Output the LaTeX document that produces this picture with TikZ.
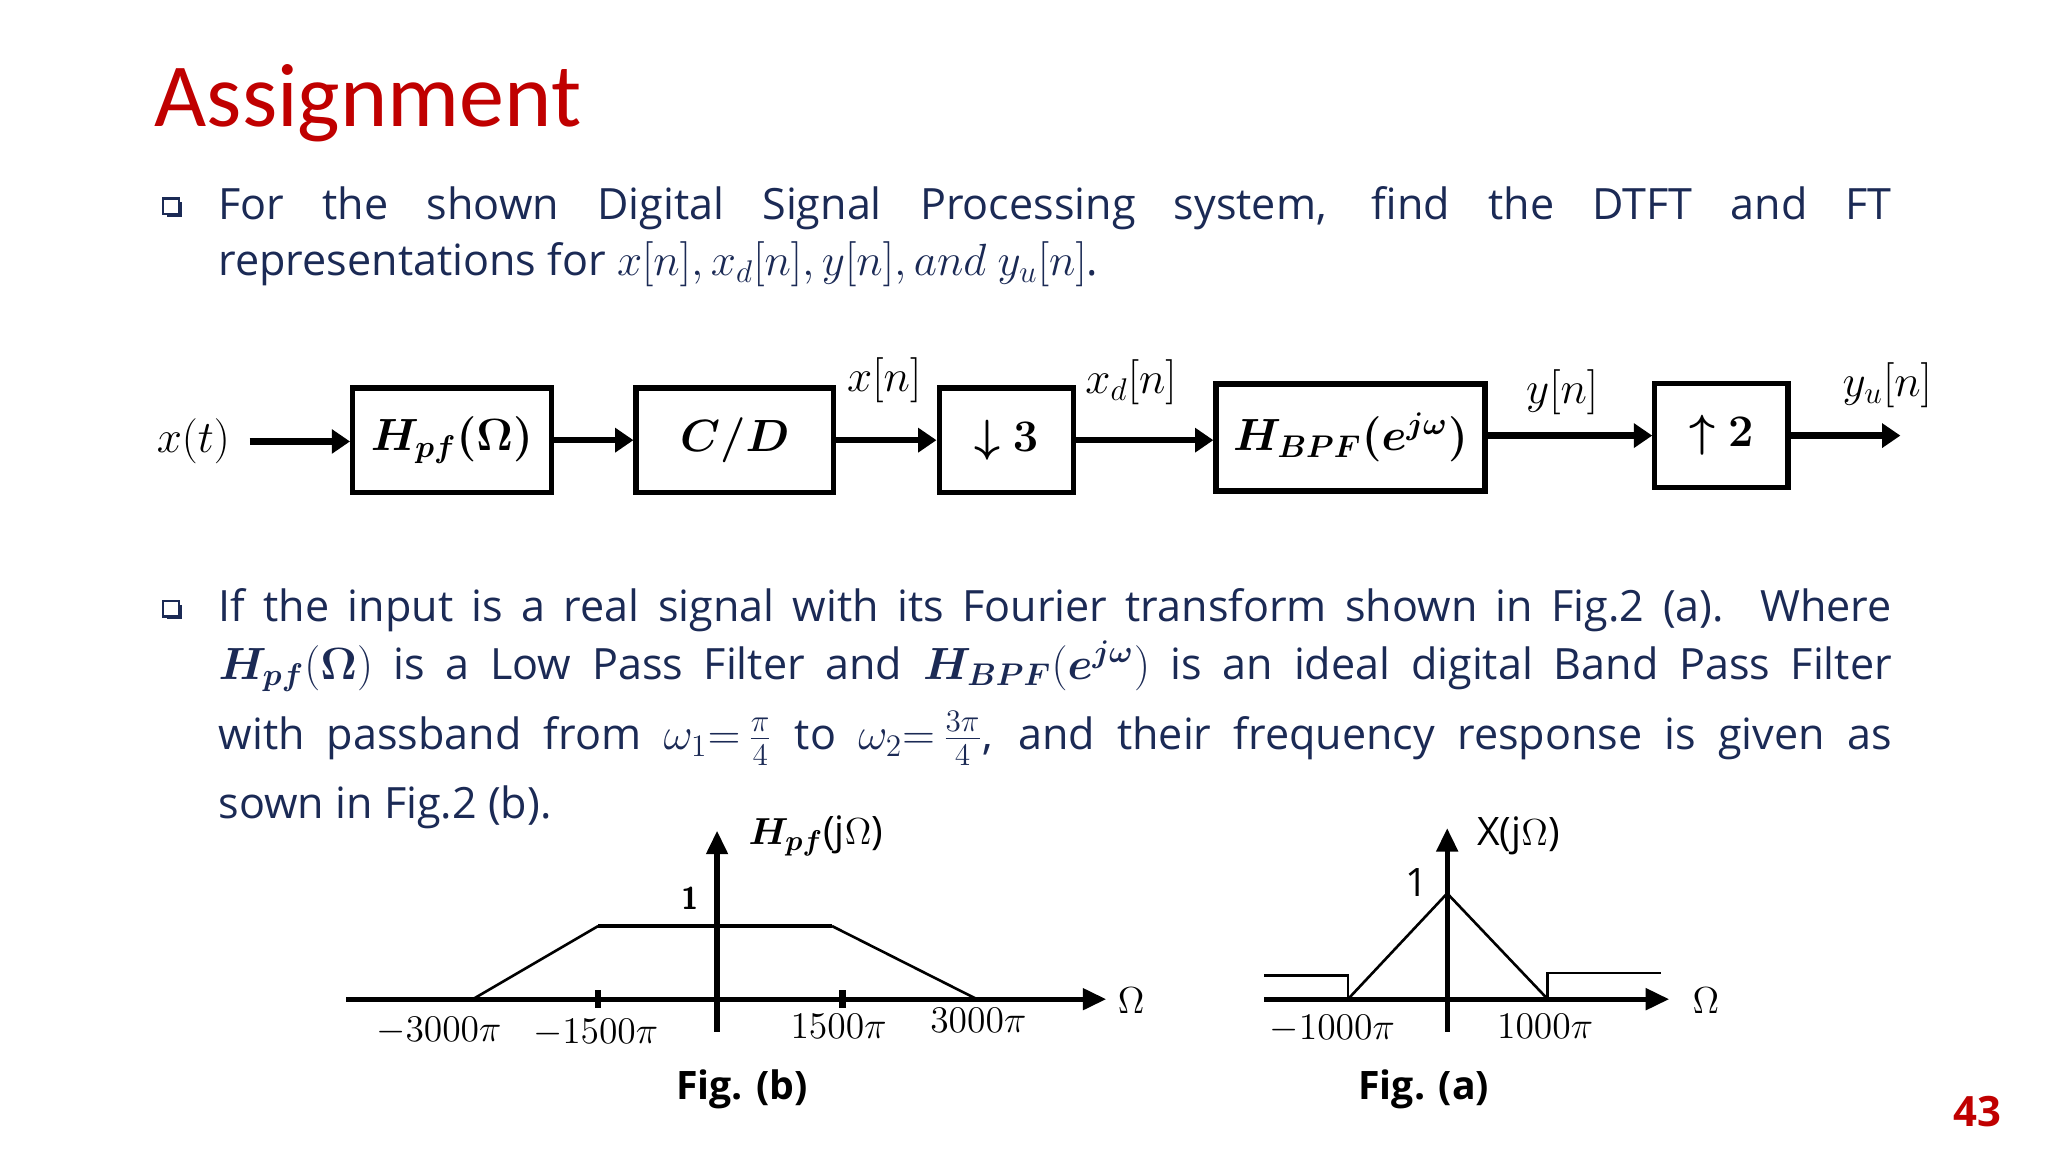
\documentclass[tikz,border=0pt]{standalone}
\usepackage{amsmath,bm}
\usepackage{fontspec}
\setmainfont{Open Sans}
\newfontfamily\titlefont{Carlito}
\usetikzlibrary{arrows.meta}
\definecolor{navy}{HTML}{1B2A55}
\definecolor{tred}{HTML}{C00000}
\newcommand{\bodysz}{\fontsize{16.5pt}{21pt}\selectfont}
\tikzset{
 blk/.style={draw,line width=2pt,minimum height=40pt,inner sep=0pt,font=\fontsize{17pt}{19pt}\selectfont},
 sig/.style={line width=2.5pt,-{Triangle[length=7pt,width=9pt]}},
 lbl/.style={font=\fontsize{17pt}{19pt}\selectfont},
 body/.style={anchor=base west,inner sep=0pt,text=navy,font=\bodysz},
 ax/.style={line width=2pt,-{Triangle[length=9pt,width=8pt]}},
 gl/.style={font=\fontsize{15pt}{17pt}\selectfont,inner sep=1pt},
 bul/.style={draw=navy,fill=white,line width=0.8pt,minimum size=6pt,inner sep=0pt,drop/.style={}}
}
\begin{document}
\begin{tikzpicture}[x=0.5pt,y=-0.5pt]
\useasboundingbox[fill=white] (0,0) rectangle (1568,882);
% title
\node[anchor=base west,inner sep=0pt,text=tred,font=\titlefont\fontsize{34.5pt}{36pt}\selectfont] (title) at (118,97) {Assignment};
% bullet 1
\fill[navy] (128,155) rectangle (139,166);
\node[bul] (b1) at (131,158) {};
\node[body] (l1) at (167,168) {\makebox[640.5pt][s]{For the shown Digital Signal Processing system, find the DTFT and FT}};
\node[body] (l2) at (167,211) {representations for $x[n],x_d[n],y[n],and\ y_u[n]$.};
% block diagram
\node[lbl] (xt) at (148,338) {$x(t)$};
\node[blk,minimum width=76pt] (hpf) at (346,337) {$\bm{H_{pf}(\Omega)}$};
\node[blk,minimum width=75.5pt] (cd) at (562.5,337) {$\bm{C/D}$};
\node[blk,minimum width=51.5pt] (ds) at (770.5,337) {$\bm{\downarrow 3}$};
\node[blk,minimum width=103pt,minimum height=41pt] (bpf) at (1034,335) {$\bm{H_{BPF}(e^{j\omega})}$};
\node[blk,minimum width=51pt] (us) at (1318,333.5) {$\bm{\uparrow 2}$};
\coordinate (out) at (1455,333.5);
\draw[sig] (xt.east) ++(8,0) -- (hpf.west|-xt.east);
\draw[sig] (hpf.east) -- (cd.west);
\draw[sig] (cd.east|-ds.west) -- (ds.west);
\draw[sig] (ds.east) -- (bpf.west|-ds.east);
\draw[sig] (bpf.east|-us.west) -- (us.west);
\draw[sig] (us.east) -- (out);
\node[lbl] (xn) at (677,291) {$x[n]$};
\node[lbl] (xdn) at (866,293) {$x_d[n]$};
\node[lbl] (yn) at (1196,300) {$y[n]$};
\node[lbl] (yun) at (1445,295) {$y_u[n]$};
% bullet 2
\fill[navy] (128,463) rectangle (139,474);
\node[bul] (b2) at (131,466) {};
\node[body] (m1) at (167,476) {\makebox[640.5pt][s]{If the input is a real signal with its Fourier transform shown in Fig.2 (a). Where}};
\node[body] (m2) at (167,520) {\makebox[640.5pt][s]{$\bm{H_{pf}}(\bm{\Omega})$ is a Low Pass Filter and $\bm{H_{BPF}}(\bm{e^{j\omega}})$ is an ideal digital Band Pass Filter}};
\node[body] (m3) at (167,574) {\makebox[640.5pt][s]{with passband from $\omega_1{=}\,\frac{\pi}{4}$ to $\omega_2{=}\,\frac{3\pi}{4}$, and their frequency response is given as}};
\node[body] (m4) at (167,627) {sown in Fig.2 (b).};
% Fig b
\coordinate (bl) at (265,765); \coordinate (br) at (847,765);
\coordinate (bb) at (549,790); \coordinate (bt) at (549,636);
\draw[ax] (bl) -- (br);
\draw[ax] (bb) -- (bt);
\draw[line width=1pt] (362,765) -- (458,709);
\draw[line width=1.5pt] (458,709) -- (637,709);
\draw[line width=1pt] (637,709) -- (748,765);
\draw[line width=2.5pt] (458,758) -- (458,772) (645,758) -- (645,772);
\node[anchor=west,font=\fontsize{15pt}{17pt}\selectfont] (hl) at (566,640) {$\bm{H_{pf}}$(j$\Omega$)};
\node[gl,font=\sffamily\bfseries\fontsize{12pt}{13pt}\selectfont] (one) at (528,688) {1};
\node[gl] (om1) at (866,766) {$\Omega$};
\node[gl] (t1) at (336,789) {$-3000\pi$};
\node[gl] (t2) at (456,791) {$-1500\pi$};
\node[gl] (t3) at (642,786) {$1500\pi$};
\node[gl] (t4) at (749,781) {$3000\pi$};
\node[font=\bfseries\fontsize{15pt}{17pt}\selectfont] (fb) at (568,834) {Fig. (b)};
% Fig a
\coordinate (al) at (968,765); \coordinate (ar) at (1278,765);
\coordinate (ab) at (1108,790); \coordinate (at) at (1108,634);
\draw[ax] (al) -- (ar);
\draw[ax] (ab) -- (at);
\draw[line width=1pt] (1032,765) -- (1108,684) -- (1185,765);
\draw[line width=1pt] (968,747) -- (1032,747) -- (1032,765);
\draw[line width=1pt] (1185,765) -- (1185,745) -- (1272,745);
\node[gl] (one2) at (1085,676) {1};
\node[anchor=west,font=\fontsize{15pt}{17pt}\selectfont] (xl) at (1124,640) {X(j$\Omega$)};
\node[gl] (om2) at (1306,766) {$\Omega$};
\node[gl] (a1) at (1020,788) {$-1000\pi$};
\node[gl] (a2) at (1183,786) {$1000\pi$};
\node[font=\bfseries\fontsize{15pt}{17pt}\selectfont] (fa) at (1090,834) {Fig. (a)};
% page number
\node[text=tred,font=\bfseries\fontsize{16pt}{18pt}\selectfont] (pg) at (1514,851) {43};
\end{tikzpicture}
\end{document}
